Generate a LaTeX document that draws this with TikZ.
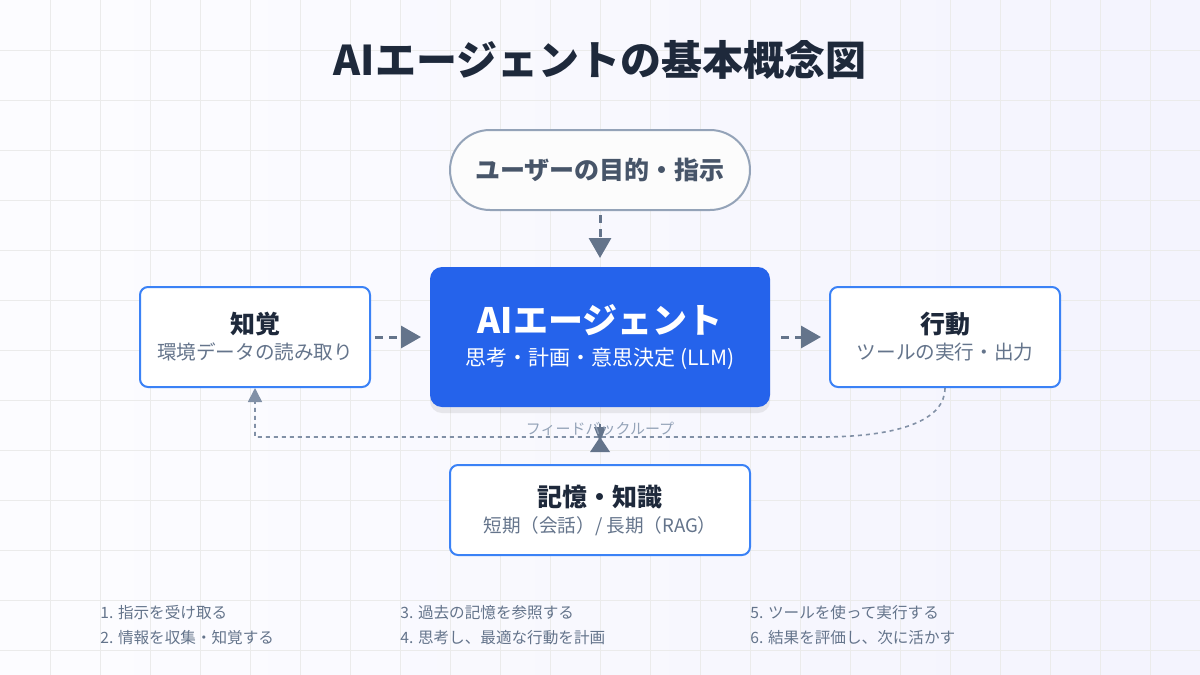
\documentclass[tikz,border=0pt]{standalone}
\usepackage{fontspec}
\setmainfont{Noto Sans CJK JP}
\usetikzlibrary{arrows.meta,positioning,shadows}
\definecolor{ink}{HTML}{1E293B}
\definecolor{slate}{HTML}{64748B}
\definecolor{lightslate}{HTML}{94A3B8}
\definecolor{agentblue}{HTML}{2563EB}
\definecolor{edgeblue}{HTML}{3B82F6}
\definecolor{subtext}{HTML}{475569}
\tikzset{
  box/.style={draw=edgeblue, line width=1pt, fill=white, rounded corners=4pt, align=center, inner sep=0pt},
  flow/.style={draw=slate, line width=1.5pt, dash pattern=on 4pt off 3pt, -{Triangle[length=10pt,width=11pt]}},
  loop/.style={draw=lightslate, line width=0.8pt, dash pattern=on 2pt off 2pt},
  stepitem/.style={anchor=west, font=\fontsize{7.8}{9}\selectfont, text=slate, inner sep=0pt},
}
\begin{document}
\begin{tikzpicture}[x=0.5pt,y=-0.5pt]
\useasboundingbox (0,0) rectangle (1200,675);
% background
\shade[left color=gray!4!blue!1, right color=gray!20!blue!5] (0,0) rectangle (1200,675);
\foreach \x in {50,100,...,1150} \draw[gray!16, line width=0.5pt] (\x,0) -- (\x,675);
\foreach \y in {50,100,...,650} \draw[gray!16, line width=0.5pt] (0,\y) -- (1200,\y);
% title
\node[font=\fontsize{20.5}{24}\selectfont\bfseries, text=ink] (title) at (600,60) {AIエージェントの基本概念図};
% boxes
\node[box, draw=lightslate, fill=white!60!gray!5, rounded corners=20pt, minimum width=150pt, minimum height=40pt,
  font=\fontsize{12.5}{14}\selectfont\bfseries, text=subtext] (goal) at (600,170) {ユーザーの目的・指示};
\node[box, draw=none, fill=agentblue, rounded corners=6pt, minimum width=170pt, minimum height=70pt,
  drop shadow={opacity=0.15, shadow xshift=0pt, shadow yshift=-3pt}, text=white] (agent) at (600,337)
  {{\fontsize{17.5}{20}\selectfont\bfseries AIエージェント}\\[4pt]{\fontsize{10.5}{12}\selectfont 思考・計画・意思決定 (LLM)}};
\node[box, minimum width=115pt, minimum height=50pt] (sense) at (255,337)
  {{\fontsize{12.5}{14}\selectfont\bfseries\color{ink} 知覚}\\[1pt]{\fontsize{9.8}{11}\selectfont\color{slate} 環境データの読み取り}};
\node[box, minimum width=115pt, minimum height=50pt] (act) at (945,337)
  {{\fontsize{12.5}{14}\selectfont\bfseries\color{ink} 行動}\\[1pt]{\fontsize{9.8}{11}\selectfont\color{slate} ツールの実行・出力}};
\node[box, minimum width=150pt, minimum height=45pt] (memory) at (600,510)
  {{\fontsize{12.5}{14}\selectfont\bfseries\color{ink} 記憶・知識}\\[1pt]{\fontsize{9.3}{11}\selectfont\color{slate} 短期（会話）/ 長期（RAG）}};
% flow arrows
\draw[flow] ([yshift=-2pt]goal.south) -- ([yshift=4pt]agent.north);
\draw[flow] ([xshift=2pt]sense.east) -- ([xshift=-4pt]agent.west);
\draw[flow] ([xshift=5pt]agent.east) -- ([xshift=-4pt]act.west);
% feedback loop
\coordinate (turn) at (820,437);
\draw[loop, -{Triangle[length=7pt,width=7pt]}, lightslate!60!slate] (act.south) .. controls (945,420) and (900,437) .. (turn)
  -- (255,437) -- (sense.south);
% memory link
\draw[slate, line width=1.2pt] ([yshift=-8pt]agent.south) -- ([yshift=8pt]memory.north);
\fill[slate] (594,427) -- (606,427) -- (600,442) -- cycle;
\fill[slate] (590,452) -- (610,452) -- (600,437) -- cycle;
\node[font=\fontsize{7.5}{9}\selectfont, text=lightslate] (looplabel) at (600,429) {フィードバックループ};
% steps
\node[stepitem] (s1) at (100,613) {1. 指示を受け取る};
\node[stepitem] (s2) at (100,638) {2. 情報を収集・知覚する};
\node[stepitem] (s3) at (400,613) {3. 過去の記憶を参照する};
\node[stepitem] (s4) at (400,638) {4. 思考し、最適な行動を計画};
\node[stepitem] (s5) at (750,613) {5. ツールを使って実行する};
\node[stepitem] (s6) at (750,638) {6. 結果を評価し、次に活かす};
\end{tikzpicture}
\end{document}
